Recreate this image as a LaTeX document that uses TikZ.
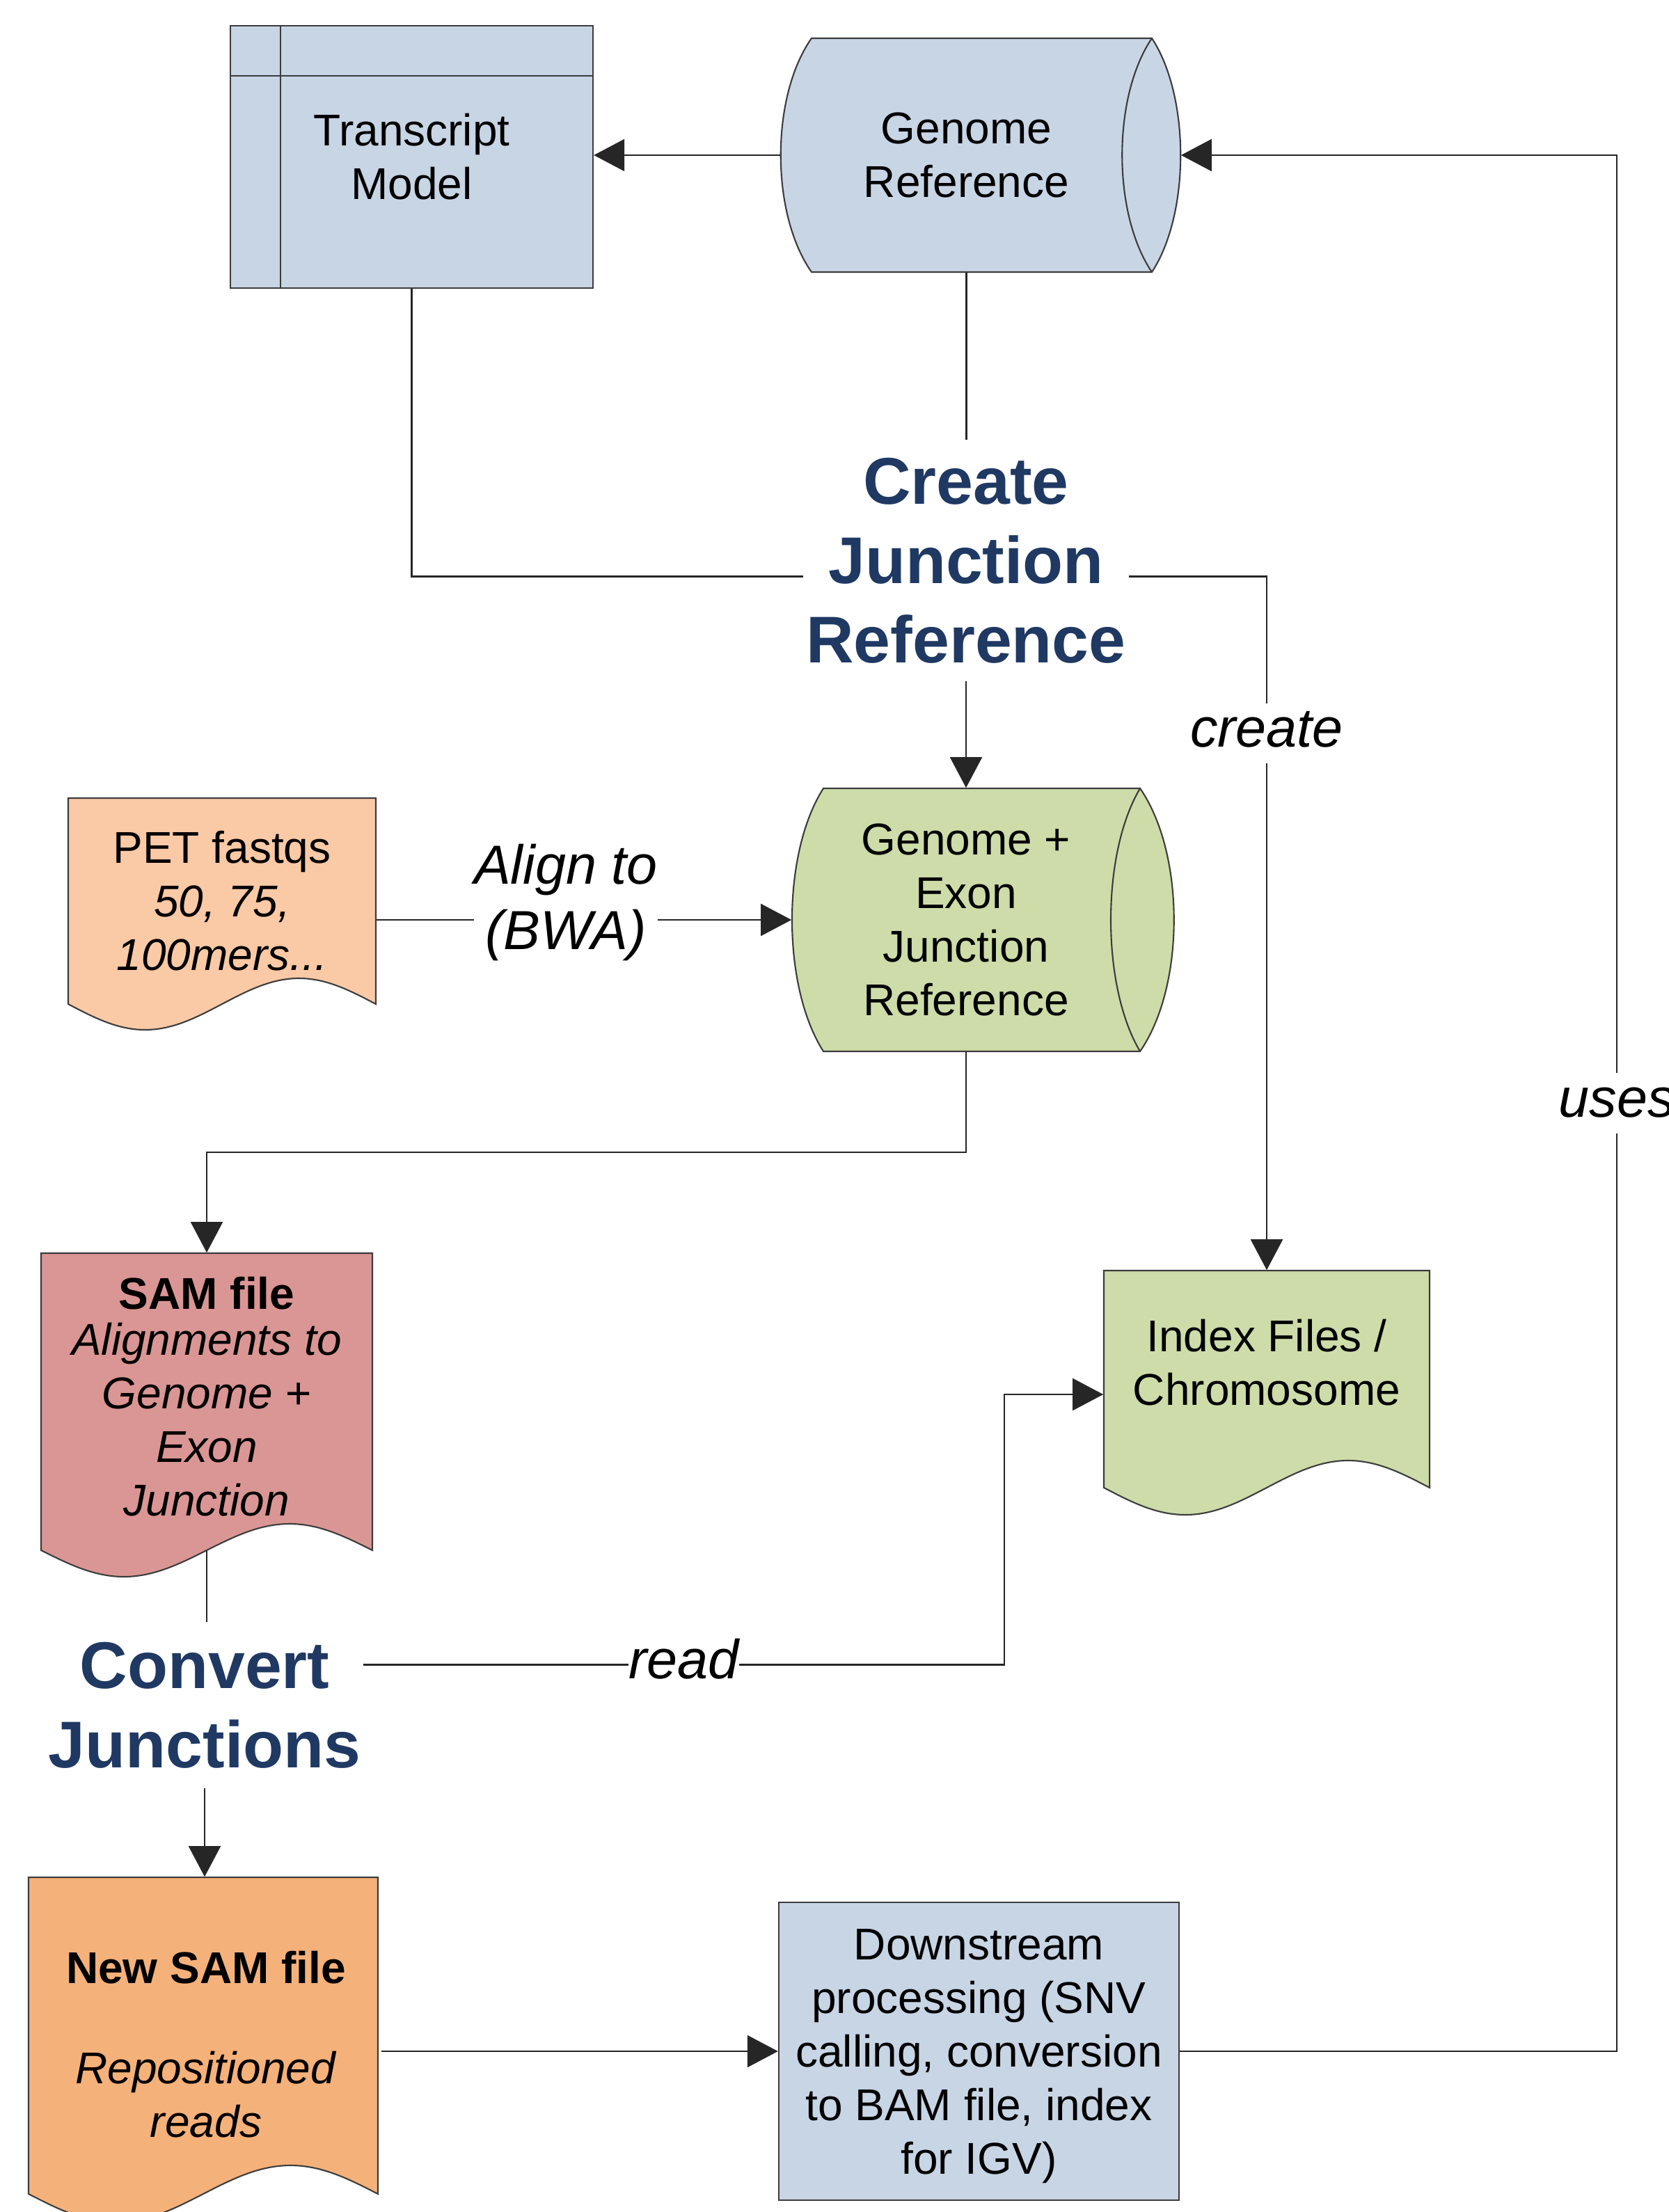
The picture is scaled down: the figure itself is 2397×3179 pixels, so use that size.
\documentclass[tikz,border=0pt]{standalone}
\usepackage{fontspec}
\setmainfont{Liberation Sans}
\usetikzlibrary{arrows.meta,calc}

\definecolor{procblue}{RGB}{200,213,229}
\definecolor{refgreen}{RGB}{206,220,169}
\definecolor{fastqpeach}{RGB}{250,201,166}
\definecolor{samred}{RGB}{218,150,148}
\definecolor{newsamorange}{RGB}{245,177,122}
\definecolor{stepblue}{RGB}{31,57,99}
\definecolor{edgegray}{RGB}{60,60,60}

\begin{document}
\begin{tikzpicture}[x=0.01cm, y=-0.01cm,
  boxtext/.style={font=\fontsize{18.2}{21.9}\selectfont, align=center, inner sep=0pt},
  ghost/.style={boxtext, draw=none, fill=none, rectangle},
  shapeline/.style={draw=edgegray, line width=0.6pt},
  steptext/.style={font=\bfseries\fontsize{27}{32.4}\selectfont, text=stepblue,
                   align=center, inner sep=0pt},
  conn/.style={draw=black!85, line width=0.6pt},
  flow/.style={conn, -{Triangle[length=0.44cm, width=0.46cm]}},
  edgelabel/.style={font=\itshape\fontsize{22.5}{26.5}\selectfont, fill=white,
                    inner xsep=0pt, inner ysep=0.06cm, text height=0.57cm, text depth=0.17cm},
  bwalabel/.style={font=\itshape\fontsize{22.5}{26.5}\selectfont, fill=white,
                   inner sep=0pt, align=center},
]
\path[use as bounding box, fill=white] (0,0) rectangle (2397,3179);

% ---------- shape outlines ----------
% Genome Reference (stored data cylinder)
\path[shapeline, fill=procblue] (1166,55) -- (1655,55)
  .. controls (1710,139) and (1710,307) .. (1655,391) -- (1166,391)
  .. controls (1107,307) and (1107,139) .. (1166,55) -- cycle;
\draw[shapeline] (1655,55) .. controls (1598,139) and (1598,307) .. (1655,391);

% Genome + Exon Junction Reference (stored data cylinder)
\path[shapeline, fill=refgreen] (1183,1133) -- (1638,1133)
  .. controls (1703,1227) and (1703,1417) .. (1638,1511) -- (1183,1511)
  .. controls (1123,1417) and (1123,1227) .. (1183,1133) -- cycle;
\draw[shapeline] (1638,1133) .. controls (1582,1227) and (1582,1417) .. (1638,1511);

% document shapes
\path[shapeline, fill=fastqpeach] (98,1147) -- (540,1147) -- (540,1443)
  sin (429.5,1406) cos (319,1443) sin (208.5,1480) cos (98,1443) -- cycle;
\path[shapeline, fill=samred] (59,1801) -- (535,1801) -- (535,2228)
  sin (416,2190) cos (297,2228) sin (178,2266) cos (59,2228) -- cycle;
\path[shapeline, fill=refgreen] (1586,1826) -- (2054,1826) -- (2054,2138)
  sin (1937,2099) cos (1820,2138) sin (1703,2177) cos (1586,2138) -- cycle;
\path[shapeline, fill=newsamorange] (41,2698) -- (543,2698) -- (543,3153)
  sin (417.5,3112) cos (292,3153) sin (166.5,3194) cos (41,3153) -- cycle;

% ---------- nodes ----------
\node[boxtext, shapeline, fill=procblue, minimum width=5.21cm, minimum height=3.77cm]
  (tm) at (591.5,225.5) {Transcript\\Model};
\draw[shapeline] ([xshift=0.73cm]tm.north west) -- ([xshift=0.73cm]tm.south west);
\draw[shapeline] ([yshift=-0.73cm]tm.north west) -- ([yshift=-0.73cm]tm.north east);

\node[ghost, minimum width=5.33cm, minimum height=3.36cm]
  (gr) at (1388.5,223) {Genome\\Reference};

\node[steptext, minimum width=4.66cm, minimum height=3.45cm]
  (cjr) at (1388,805.5) {Create\\Junction\\Reference};

\node[ghost, minimum width=4.42cm, minimum height=2.96cm]
  (pet) at (319,1295) {PET fastqs\\\textit{50, 75,}\\\textit{100mers...}};

\node[ghost, minimum width=5.00cm, minimum height=3.78cm]
  (ge) at (1388,1322) {Genome +\\Exon\\Junction\\Reference};

\node[ghost, minimum width=4.76cm, minimum height=4.27cm]
  (sam) at (297,2014.5) {\textbf{SAM file}\\[-0.11cm]\textit{Alignments to}\\\textit{Genome +}\\\textit{Exon}\\\textit{Junction}\rule[-0.16cm]{0pt}{0pt}};

\node[ghost, minimum width=4.68cm, minimum height=2.64cm]
  (idx) at (1820,1958) {Index Files /\\Chromosome};

\node[steptext, minimum width=4.54cm, minimum height=2.37cm]
  (cj) at (294,2450.5) {Convert\\Junctions};

\node[ghost, minimum width=5.02cm, minimum height=4.55cm]
  (nsam) at (296,2925.5) {\rule{0pt}{0.71cm}\textbf{New SAM file}\\[0.67cm]\textit{Repositioned}\\\textit{reads}};

\node[boxtext, shapeline, fill=procblue, minimum width=5.75cm, minimum height=4.28cm]
  (ds) at (1406.5,2948) {\rule{0pt}{0.59cm}Downstream\\processing (SNV\\calling, conversion\\to BAM file, index\\for IGV)};

% ---------- connectors ----------
\draw[flow] (gr.west) -- (gr.west -| tm.east);
\draw[conn] (gr.south) -- (gr.south |- cjr.north);
\draw[conn] (tm.south) |- ($(cjr.west)+(0,23)$);
\draw[flow] (cjr.south) -- (cjr.south |- ge.north);
\draw[flow] ($(cjr.east)+(0,23)$) -| node[edgelabel, pos=0.613] {create} (idx.north);
\draw[flow] (pet.east |- ge.west) -- node[bwalabel, pos=0.4565, yshift=0.25cm] {Align to\\(BWA)} (ge.west);
\draw[flow] (ge.south) -- ++(0,144) -| (sam.north);
\draw[conn] (sam.south) -- (sam.south |- cj.north);
\draw[flow] (cj.south) -- (cj.south |- nsam.north);
\draw[flow] ($(cj.east)+(0,-58)$) -- node[edgelabel] {read} ++(921,0) |- ($(idx.west)+(0,46)$);
\draw[flow] (nsam.east |- ds.west) -- (ds.west);
\draw[flow] (ds.east) -- ++(628,0) |- node[edgelabel, pos=0.25] {uses} ([xshift=0.41cm]gr.east);
\end{tikzpicture}
\end{document}
